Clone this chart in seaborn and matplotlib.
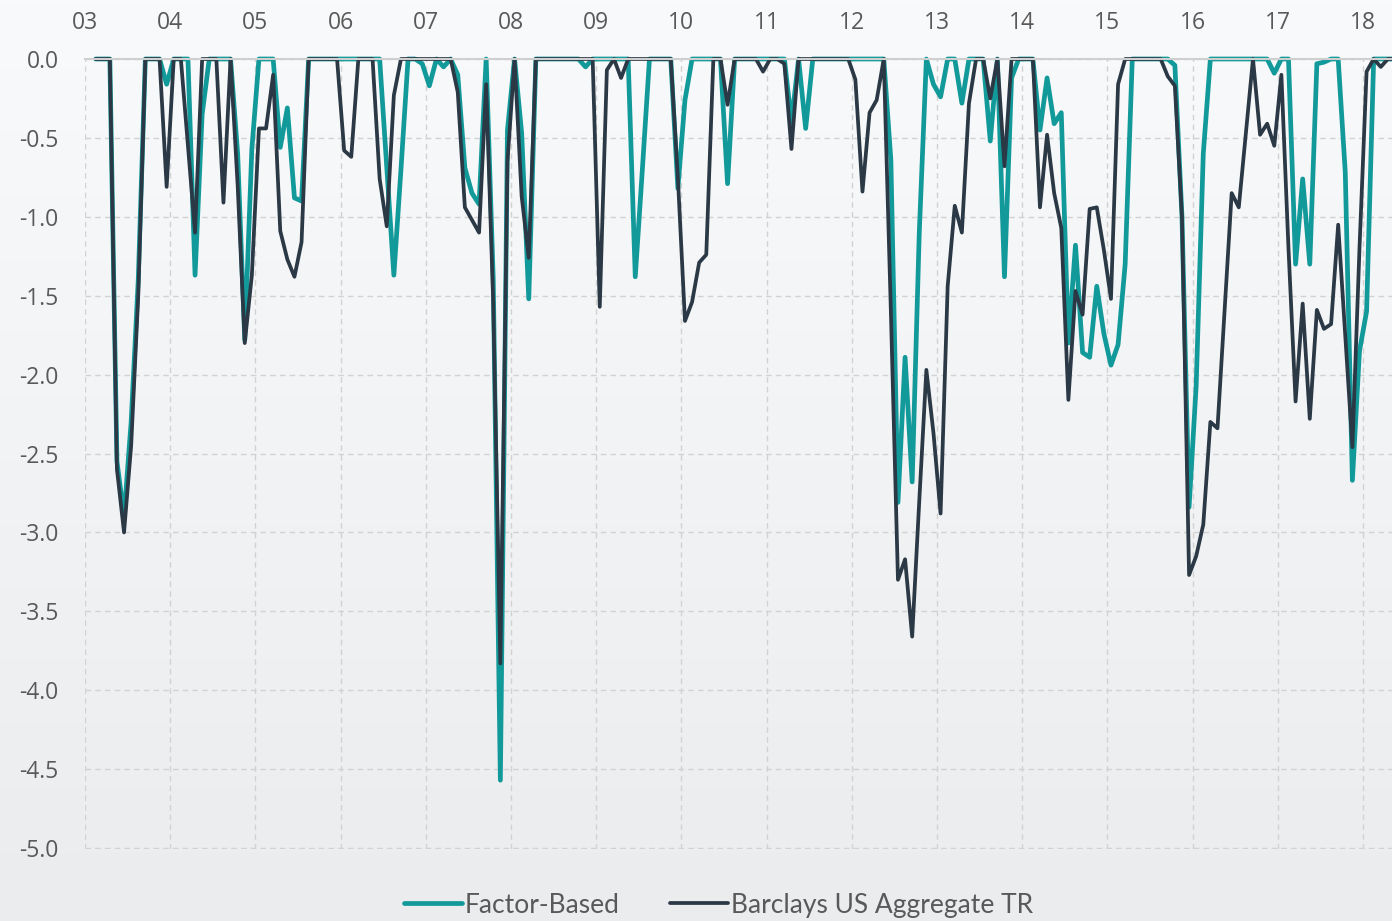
import matplotlib
matplotlib.use('Agg')
import matplotlib.pyplot as plt
import numpy as np
import pandas as pd
import seaborn as sns

sns.set_theme(style='white')
plt.rcParams['font.family'] = ['Open Sans', 'DejaVu Sans']
plt.rcParams['axes.unicode_minus'] = False

# monthly drawdowns, Feb 2003 .. May 2018 (one row per calendar year)
factor_based = [
    0, 0, 0, -2.55, -2.9, -2.3, -1.4, 0, 0, 0, -0.16,
    0, 0, 0, -1.37, -0.35, 0, 0, 0, 0, -0.6, -1.78, -0.57,
    0, 0, 0, -0.56, -0.31, -0.88, -0.9, 0, 0, 0, 0, 0,
    0, 0, 0, 0, 0, 0, -0.68, -1.37, -0.7, 0, 0, -0.03,
    -0.17, 0, -0.05, 0, -0.1, -0.69, -0.85, -0.92, 0, -1.4, -4.57, -0.45,
    0, -0.47, -1.52, 0, 0, 0, 0, 0, 0, 0, -0.05, 0,
    0, 0, 0, 0, 0, -1.38, -0.7, 0, 0, 0, 0, -0.82,
    -0.26, 0, 0, 0, 0, 0, -0.79, 0, 0, 0, 0, 0,
    0, 0, 0, -0.4, 0, -0.44, 0, 0, 0, 0, 0, 0,
    0, 0, 0, 0, 0, -0.64, -2.81, -1.89, -2.68, -1.1, 0, -0.16,
    -0.24, 0, 0, -0.28, 0, 0, 0, -0.52, 0, -1.38, -0.12, 0,
    0, 0, -0.45, -0.12, -0.41, -0.34, -1.8, -1.18, -1.86, -1.89, -1.44, -1.74,
    -1.94, -1.81, -1.3, 0, 0, 0, 0, 0, 0, -0.04, -1.0, -2.84,
    -2.07, -0.6, 0, 0, 0, 0, 0, 0, 0, 0, 0, -0.09,
    0, 0, -1.3, -0.76, -1.3, -0.03, -0.02, 0, 0, -0.72, -2.67, -1.85,
    -1.6, 0, 0, 0, 0,
]

barclays_agg = [
    0, 0, 0, -2.6, -3.0, -2.45, -1.5, 0, 0, 0, -0.81,
    0, 0, -0.55, -1.1, 0, 0, 0, -0.91, 0, -0.8, -1.8, -1.37,
    -0.44, -0.44, -0.1, -1.09, -1.27, -1.38, -1.16, 0, 0, 0, 0, 0,
    -0.58, -0.62, 0, 0, 0, -0.76, -1.06, -0.23, 0, 0, 0, 0,
    0, 0, 0, 0, -0.21, -0.94, -1.02, -1.1, -0.16, -1.55, -3.83, -0.65,
    0, -0.87, -1.26, 0, 0, 0, 0, 0, 0, 0, 0, 0,
    -1.57, -0.07, 0, -0.12, 0, 0, 0, 0, 0, 0, 0, -0.75,
    -1.66, -1.54, -1.29, -1.24, 0, 0, -0.29, 0, 0, 0, 0, -0.08,
    0, 0, -0.03, -0.57, 0, 0, 0, 0, 0, 0, 0, 0,
    -0.13, -0.84, -0.34, -0.26, 0, -1.6, -3.3, -3.17, -3.66, -2.8, -1.97, -2.37,
    -2.88, -1.44, -0.93, -1.1, -0.28, 0, 0, -0.25, 0, -0.68, 0, 0,
    0, 0, -0.94, -0.48, -0.85, -1.07, -2.16, -1.47, -1.62, -0.95, -0.94, -1.21,
    -1.52, -0.16, 0, 0, 0, 0, 0, 0, -0.11, -0.17, -1.0, -3.27,
    -3.15, -2.95, -2.3, -2.34, -1.6, -0.85, -0.94, -0.47, 0, -0.48, -0.41, -0.55,
    -0.1, -1.2, -2.17, -1.55, -2.28, -1.59, -1.71, -1.68, -1.05, -1.76, -2.46, -1.2,
    -0.08, 0, -0.05, 0, 0,
]

months = pd.date_range('2003-02-01', periods=len(factor_based), freq='MS')
year_labels = ['03', '04', '05', '06', '07', '08', '09', '10',
               '11', '12', '13', '14', '15', '16', '17', '18']
y_ticks = [0.0, -0.5, -1.0, -1.5, -2.0, -2.5, -3.0, -3.5, -4.0, -4.5, -5.0]

teal = '#12999a'
dark = '#2b3845'

df = pd.DataFrame({
    'x': months.year + (months.month - 0.5) / 12.0,
    'Factor-Based': factor_based,
    'Barclays US Aggregate TR': barclays_agg,
})

fig = plt.figure(figsize=(13.92, 9.21), dpi=100)

# soft vertical gradient behind everything
bg = fig.add_axes([0, 0, 1, 1], zorder=-10)
grad = np.linspace(0, 1, 256).reshape(-1, 1)
bg.imshow(grad, aspect='auto', extent=[0, 1, 0, 1], origin='upper',
          cmap=matplotlib.colors.LinearSegmentedColormap.from_list(
              'bg', ['#f9fafb', '#eaecee']))
bg.axis('off')

ax = fig.add_axes([85 / 1392, 1 - 849 / 921, (1392 - 85) / 1392, (849 - 59) / 921])
ax.patch.set_alpha(0)

sns.lineplot(data=df, x='x', y='Factor-Based', color=teal, lw=3.4,
             ax=ax, label='Factor-Based', clip_on=False)
sns.lineplot(data=df, x='x', y='Barclays US Aggregate TR', color=dark,
             lw=2.7, ax=ax, label='Barclays US Aggregate TR', clip_on=False)

first_year = 2003
ax.set_xlim(first_year, first_year + 184.08 / 12)
ax.set_ylim(-5.006, 0)
ax.set_xticks([first_year + i for i in range(len(year_labels))])
ax.set_xticklabels(year_labels)
ax.set_yticks(y_ticks)
ax.set_yticklabels(['{:.1f}'.format(v) for v in y_ticks])
ax.xaxis.tick_top()
ax.tick_params(axis='x', length=0, pad=17, labelsize=16.5, colors='#595959')
ax.tick_params(axis='y', length=0, pad=19, labelsize=16.5, colors='#595959')
ax.set_xlabel('')
ax.set_ylabel('')

ax.grid(True, color='#d2d2d2', linestyle=(0, (4, 3)), linewidth=1)
ax.set_axisbelow(True)
for side in ['left', 'right', 'bottom']:
    ax.spines[side].set_visible(False)
ax.spines['top'].set_color('#cfcfcf')
ax.spines['top'].set_linewidth(1.5)

ax.legend(loc='center', bbox_to_anchor=(0.4847, -0.071),
          ncol=2, frameon=False, handlelength=2.2, handletextpad=0.1,
          columnspacing=1.9, prop={'family': 'Lato', 'size': 19},
          labelcolor='#595959')

fig.savefig('out.png', dpi=100)
